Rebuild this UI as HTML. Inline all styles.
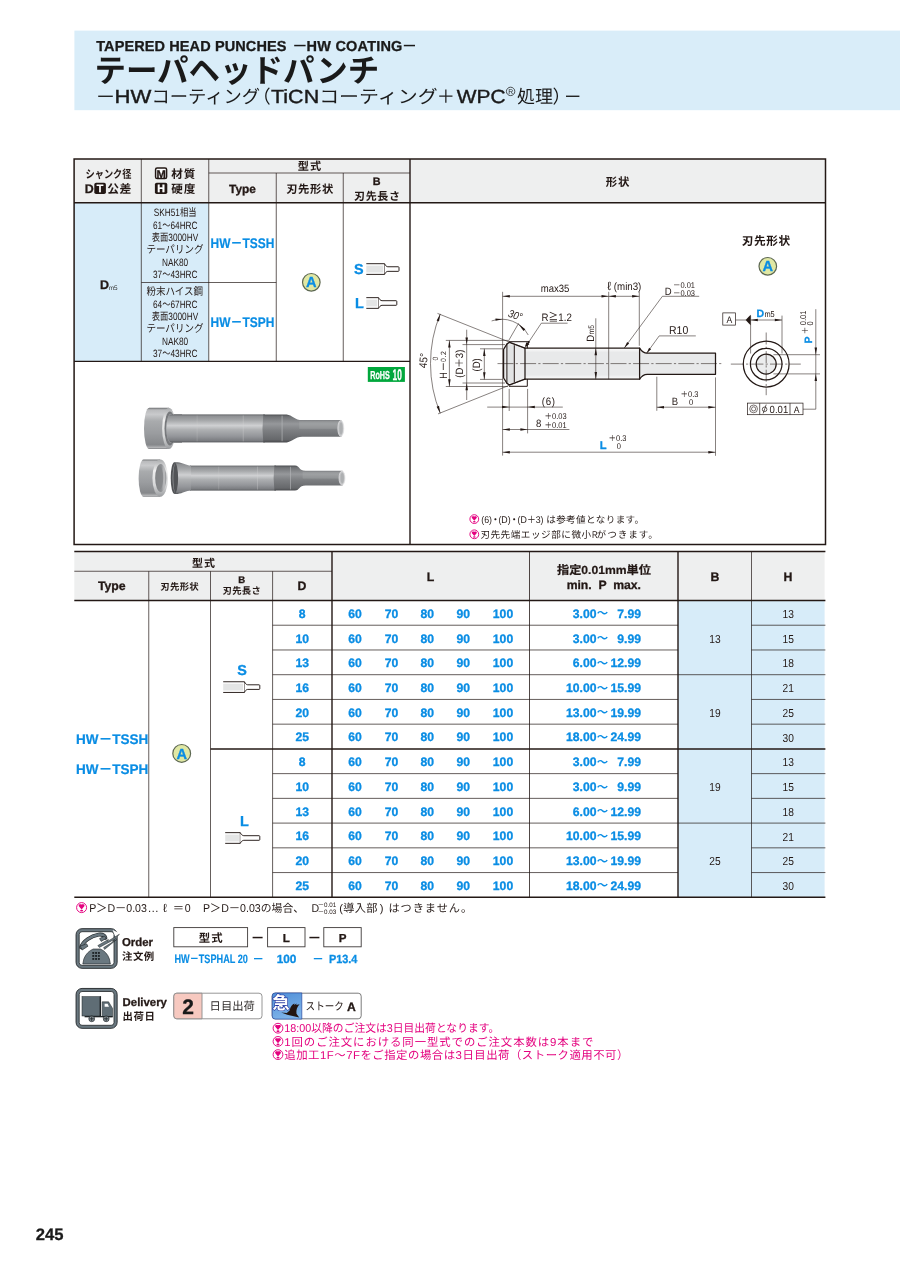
<!DOCTYPE html>
<html lang="ja"><head><meta charset="utf-8"><title>TAPERED HEAD PUNCHES -HW COATING-</title>
<style>
html,body{margin:0;padding:0;background:#fff;}
body{width:900px;height:1271px;overflow:hidden;font-family:"Liberation Sans","Noto Sans CJK JP",sans-serif;}
svg{display:block;will-change:transform;opacity:0.999;}
svg text{font-family:"Liberation Sans","Noto Sans CJK JP",sans-serif;text-rendering:geometricPrecision;}
</style></head><body>
<svg width="900" height="1271" viewBox="0 0 900 1271">
<rect x="74.40" y="30.60" width="825.60" height="79.60" fill="#d9edf9"/>
<text x="96.20" y="50.70" font-size="14.5" fill="#1a1a1a" font-weight="700" stroke="#1a1a1a" stroke-width="0.3" textLength="190.2" lengthAdjust="spacing">TAPERED HEAD PUNCHES</text>
<rect x="294.20" y="44.80" width="11.40" height="1.50" fill="#1a1a1a"/>
<text x="306.60" y="50.70" font-size="14.5" fill="#1a1a1a" font-weight="700" stroke="#1a1a1a" stroke-width="0.3" textLength="95.8" lengthAdjust="spacing">HW COATING</text>
<rect x="403.80" y="44.80" width="11.20" height="1.50" fill="#1a1a1a"/>
<text x="94.40" y="82.00" font-size="32" fill="#1a1a1a" font-weight="700" textLength="284.8" lengthAdjust="spacingAndGlyphs">テーパヘッドパンチ</text>
<rect x="98.20" y="95.60" width="14.60" height="1.35" fill="#1a1a1a"/>
<text x="114.60" y="102.70" font-size="19" fill="#1a1a1a" stroke="#1a1a1a" stroke-width="0.4" textLength="36.8" lengthAdjust="spacingAndGlyphs">HW</text>
<text x="151.40" y="102.70" font-size="18.2" fill="#1a1a1a" textLength="108.6" lengthAdjust="spacingAndGlyphs">コーティング</text>
<text x="252.60" y="102.70" font-size="18.2" fill="#1a1a1a">（</text>
<text x="271.00" y="102.70" font-size="19" fill="#1a1a1a" stroke="#1a1a1a" stroke-width="0.4" textLength="48.2" lengthAdjust="spacingAndGlyphs">TiCN</text>
<text x="319.20" y="102.70" font-size="18.2" fill="#1a1a1a" textLength="118.4" lengthAdjust="spacingAndGlyphs">コーティング</text>
<text x="436.80" y="102.70" font-size="18.2" fill="#1a1a1a">＋</text>
<text x="456.80" y="102.70" font-size="19" fill="#1a1a1a" stroke="#1a1a1a" stroke-width="0.4" textLength="48.8" lengthAdjust="spacingAndGlyphs">WPC</text>
<circle cx="510.6" cy="91.4" r="4.2" fill="none" stroke="#1a1a1a" stroke-width="0.75"/>
<text x="510.70" y="93.90" font-size="6.8" fill="#1a1a1a" text-anchor="middle">R</text>
<text x="517.00" y="102.70" font-size="18.2" fill="#1a1a1a" textLength="36" lengthAdjust="spacingAndGlyphs">処理</text>
<text x="552.50" y="102.70" font-size="18.2" fill="#1a1a1a">）</text>
<rect x="566.00" y="95.60" width="13.40" height="1.35" fill="#1a1a1a"/>
<rect x="74.10" y="159.00" width="751.40" height="44.00" fill="#eeefef"/>
<rect x="74.10" y="203.00" width="134.65" height="158.40" fill="#d7ecf9"/>
<line x1="208.75" y1="173.00" x2="410.00" y2="173.00" stroke="#231815" stroke-width="0.7"/>
<line x1="141.30" y1="159.00" x2="141.30" y2="361.40" stroke="#231815" stroke-width="0.7"/>
<line x1="208.75" y1="159.00" x2="208.75" y2="361.40" stroke="#231815" stroke-width="0.7"/>
<line x1="276.25" y1="173.00" x2="276.25" y2="361.40" stroke="#231815" stroke-width="0.7"/>
<line x1="343.25" y1="173.00" x2="343.25" y2="361.40" stroke="#231815" stroke-width="0.7"/>
<line x1="141.30" y1="282.50" x2="276.25" y2="282.50" stroke="#231815" stroke-width="0.7"/>
<line x1="74.10" y1="202.80" x2="825.50" y2="202.80" stroke="#231815" stroke-width="1.4"/>
<line x1="74.10" y1="361.40" x2="410.00" y2="361.40" stroke="#231815" stroke-width="1.4"/>
<line x1="410.00" y1="159.00" x2="410.00" y2="544.50" stroke="#231815" stroke-width="1.4"/>
<rect x="74.10" y="159.00" width="751.40" height="385.50" fill="none" stroke="#231815" stroke-width="1.5"/>
<text x="85.54" y="177.70" font-size="11.2" fill="#231815" font-weight="700" textLength="45.9" lengthAdjust="spacingAndGlyphs">シャンク径</text>
<text x="84.80" y="193.40" font-size="12.4" fill="#231815" font-weight="700" stroke="#231815" stroke-width="0.3">D</text>
<rect x="94.30" y="182.70" width="11.60" height="11.30" fill="#231815" rx="1.8"/>
<text x="100.10" y="192.40" font-size="10.6" fill="#fff" text-anchor="middle" font-weight="700" stroke="#fff" stroke-width="0.3">T</text>
<text x="107.30" y="193.30" font-size="11.8" fill="#231815" font-weight="700" textLength="23.9" lengthAdjust="spacing">公差</text>
<rect x="155.60" y="167.90" width="11.00" height="10.60" fill="#fff" stroke="#231815" stroke-width="1.5" rx="1.6"/>
<text x="161.10" y="177.50" font-size="11.2" fill="#231815" text-anchor="middle" font-weight="700" stroke="#231815" stroke-width="0.3">M</text>
<text x="171.20" y="178.30" font-size="11.6" fill="#231815" font-weight="700" textLength="24.2" lengthAdjust="spacing">材質</text>
<rect x="154.90" y="182.70" width="12.40" height="11.30" fill="#231815" rx="1.8"/>
<text x="161.10" y="192.30" font-size="10.6" fill="#fff" text-anchor="middle" font-weight="700" stroke="#fff" stroke-width="0.3">H</text>
<text x="171.20" y="193.30" font-size="11.6" fill="#231815" font-weight="700" textLength="24.2" lengthAdjust="spacing">硬度</text>
<text x="297.70" y="170.30" font-size="11.2" fill="#231815" font-weight="700" textLength="23.6" lengthAdjust="spacing">型式</text>
<text x="242.50" y="193.00" font-size="11.9" fill="#231815" text-anchor="middle" font-weight="700" stroke="#231815" stroke-width="0.3">Type</text>
<text x="286.20" y="192.80" font-size="11.3" fill="#231815" font-weight="700" textLength="47.0" lengthAdjust="spacing">刃先形状</text>
<text x="376.60" y="185.00" font-size="10.8" fill="#231815" text-anchor="middle" font-weight="700" stroke="#231815" stroke-width="0.3">B</text>
<text x="354.10" y="200.10" font-size="11" fill="#231815" font-weight="700" textLength="45.8" lengthAdjust="spacing">刃先長さ</text>
<text x="605.80" y="185.60" font-size="11.4" fill="#231815" font-weight="700" textLength="23.6" lengthAdjust="spacing">形状</text>
<text x="100.00" y="288.50" font-size="12.5" fill="#231815" font-weight="700" stroke="#231815" stroke-width="0.3">D</text>
<text x="108.80" y="290.20" font-size="6.4" fill="#333">m5</text>
<text transform="translate(153.70 216.30) scale(0.78 1)" font-size="10.6" fill="#231815">SKH51相当</text>
<text transform="translate(152.99 228.65) scale(0.78 1)" font-size="10.6" fill="#231815">61～64HRC</text>
<text transform="translate(151.79 241.00) scale(0.78 1)" font-size="10.6" fill="#231815">表面3000HV</text>
<text transform="translate(146.38 253.35) scale(0.9 1)" font-size="10.6" fill="#231815">テーパリング</text>
<text transform="translate(161.94 265.70) scale(0.78 1)" font-size="10.6" fill="#231815">NAK80</text>
<text transform="translate(152.99 278.05) scale(0.78 1)" font-size="10.6" fill="#231815">37～43HRC</text>
<text transform="translate(146.38 295.20) scale(0.9 1)" font-size="10.6" fill="#231815">粉末ハイス鋼</text>
<text transform="translate(152.99 307.55) scale(0.78 1)" font-size="10.6" fill="#231815">64～67HRC</text>
<text transform="translate(151.79 319.90) scale(0.78 1)" font-size="10.6" fill="#231815">表面3000HV</text>
<text transform="translate(146.38 332.25) scale(0.9 1)" font-size="10.6" fill="#231815">テーパリング</text>
<text transform="translate(161.94 344.60) scale(0.78 1)" font-size="10.6" fill="#231815">NAK80</text>
<text transform="translate(152.99 356.95) scale(0.78 1)" font-size="10.6" fill="#231815">37～43HRC</text>
<text x="210.60" y="248.40" font-size="13.9" fill="#0a8de4" font-weight="700" stroke="#0a8de4" stroke-width="0.2" textLength="63.8" lengthAdjust="spacingAndGlyphs">HW－TSSH</text>
<text x="210.60" y="327.00" font-size="13.9" fill="#0a8de4" font-weight="700" stroke="#0a8de4" stroke-width="0.2" textLength="63.8" lengthAdjust="spacingAndGlyphs">HW－TSPH</text>
<circle cx="311.30" cy="282.30" r="8.80" fill="#e0e8a4" stroke="#5d6852" stroke-width="1.2"/>
<text x="311.30" y="287.48" font-size="14.6" fill="#0a8de4" text-anchor="middle" font-weight="700" stroke="#0a8de4" stroke-width="0.3">A</text>
<text x="354.00" y="273.90" font-size="14.4" fill="#0a8de4" font-weight="700" stroke="#0a8de4" stroke-width="0.3">S</text>
<rect x="366.30" y="265.60" width="16.90" height="6.90" fill="#e4e5e5"/>
<g stroke="#231815" stroke-width="0.95" fill="none" stroke-linejoin="round">
<path d="M366.30 263.70 H384.60 V274.40 H366.30"/>
<path d="M384.60 263.90 C385.40 265.10 386.20 266.75 387.80 266.75 H398.20 Q399.00 266.75 399.00 267.55 V270.55 Q399.00 271.35 398.20 271.35 H387.80 C386.20 271.35 385.40 273.00 384.60 274.20" fill="#fff"/>
</g>
<text x="355.00" y="308.00" font-size="14.4" fill="#0a8de4" font-weight="700" stroke="#0a8de4" stroke-width="0.3">L</text>
<rect x="366.30" y="299.55" width="10.90" height="6.90" fill="#e4e5e5"/>
<g stroke="#231815" stroke-width="0.95" fill="none" stroke-linejoin="round">
<path d="M366.30 297.65 H378.60 V308.35 H366.30"/>
<path d="M378.60 297.85 C379.40 299.05 380.40 300.70 382.00 300.70 H396.00 Q396.80 300.70 396.80 301.50 V304.50 Q396.80 305.30 396.00 305.30 H382.00 C380.40 305.30 379.40 306.95 378.60 308.15" fill="#fff"/>
</g>
<rect x="74.30" y="551.50" width="750.30" height="49.00" fill="#eeefef"/>
<rect x="678.00" y="600.50" width="146.60" height="296.80" fill="#d7ecf9"/>
<line x1="74.30" y1="571.25" x2="332.00" y2="571.25" stroke="#231815" stroke-width="0.7"/>
<line x1="148.75" y1="571.25" x2="148.75" y2="897.30" stroke="#231815" stroke-width="0.7"/>
<line x1="210.50" y1="571.25" x2="210.50" y2="897.30" stroke="#231815" stroke-width="0.7"/>
<line x1="272.60" y1="571.25" x2="272.60" y2="897.30" stroke="#231815" stroke-width="0.7"/>
<line x1="529.50" y1="551.50" x2="529.50" y2="897.30" stroke="#231815" stroke-width="0.8"/>
<line x1="751.50" y1="551.50" x2="751.50" y2="897.30" stroke="#231815" stroke-width="0.7"/>
<line x1="272.60" y1="625.23" x2="678.00" y2="625.23" stroke="#231815" stroke-width="0.7"/>
<line x1="751.50" y1="625.23" x2="825.40" y2="625.23" stroke="#231815" stroke-width="0.7"/>
<line x1="272.60" y1="649.97" x2="678.00" y2="649.97" stroke="#231815" stroke-width="0.7"/>
<line x1="751.50" y1="649.97" x2="825.40" y2="649.97" stroke="#231815" stroke-width="0.7"/>
<line x1="272.60" y1="674.70" x2="678.00" y2="674.70" stroke="#231815" stroke-width="0.7"/>
<line x1="751.50" y1="674.70" x2="825.40" y2="674.70" stroke="#231815" stroke-width="0.7"/>
<line x1="678.00" y1="674.70" x2="751.50" y2="674.70" stroke="#231815" stroke-width="0.7"/>
<line x1="272.60" y1="699.43" x2="678.00" y2="699.43" stroke="#231815" stroke-width="0.7"/>
<line x1="751.50" y1="699.43" x2="825.40" y2="699.43" stroke="#231815" stroke-width="0.7"/>
<line x1="272.60" y1="724.17" x2="678.00" y2="724.17" stroke="#231815" stroke-width="0.7"/>
<line x1="751.50" y1="724.17" x2="825.40" y2="724.17" stroke="#231815" stroke-width="0.7"/>
<line x1="210.50" y1="748.90" x2="825.40" y2="748.90" stroke="#231815" stroke-width="1.5"/>
<line x1="272.60" y1="773.63" x2="678.00" y2="773.63" stroke="#231815" stroke-width="0.7"/>
<line x1="751.50" y1="773.63" x2="825.40" y2="773.63" stroke="#231815" stroke-width="0.7"/>
<line x1="272.60" y1="798.37" x2="678.00" y2="798.37" stroke="#231815" stroke-width="0.7"/>
<line x1="751.50" y1="798.37" x2="825.40" y2="798.37" stroke="#231815" stroke-width="0.7"/>
<line x1="272.60" y1="823.10" x2="678.00" y2="823.10" stroke="#231815" stroke-width="0.7"/>
<line x1="751.50" y1="823.10" x2="825.40" y2="823.10" stroke="#231815" stroke-width="0.7"/>
<line x1="678.00" y1="823.10" x2="751.50" y2="823.10" stroke="#231815" stroke-width="0.7"/>
<line x1="272.60" y1="847.83" x2="678.00" y2="847.83" stroke="#231815" stroke-width="0.7"/>
<line x1="751.50" y1="847.83" x2="825.40" y2="847.83" stroke="#231815" stroke-width="0.7"/>
<line x1="272.60" y1="872.57" x2="678.00" y2="872.57" stroke="#231815" stroke-width="0.7"/>
<line x1="751.50" y1="872.57" x2="825.40" y2="872.57" stroke="#231815" stroke-width="0.7"/>
<line x1="332.00" y1="551.50" x2="332.00" y2="897.30" stroke="#231815" stroke-width="1.4"/>
<line x1="678.00" y1="551.50" x2="678.00" y2="897.30" stroke="#231815" stroke-width="1.4"/>
<line x1="74.30" y1="551.50" x2="825.40" y2="551.50" stroke="#231815" stroke-width="1.6"/>
<line x1="74.30" y1="600.50" x2="825.40" y2="600.50" stroke="#231815" stroke-width="1.5"/>
<line x1="74.30" y1="897.30" x2="825.40" y2="897.30" stroke="#231815" stroke-width="1.5"/>
<text x="192.00" y="566.50" font-size="11" fill="#231815" font-weight="700" textLength="23.0" lengthAdjust="spacing">型式</text>
<text x="111.80" y="590.40" font-size="12.3" fill="#231815" text-anchor="middle" font-weight="700" stroke="#231815" stroke-width="0.3">Type</text>
<text x="160.25" y="589.60" font-size="9.4" fill="#231815" font-weight="700" textLength="38.5" lengthAdjust="spacing">刃先形状</text>
<text x="241.80" y="583.20" font-size="9.6" fill="#231815" text-anchor="middle" font-weight="700" stroke="#231815" stroke-width="0.3">B</text>
<text x="222.45" y="593.80" font-size="9.4" fill="#231815" font-weight="700" textLength="38.5" lengthAdjust="spacing">刃先長さ</text>
<text x="302.00" y="590.40" font-size="12.3" fill="#231815" text-anchor="middle" font-weight="700" stroke="#231815" stroke-width="0.3">D</text>
<text x="430.50" y="581.00" font-size="12.3" fill="#231815" text-anchor="middle" font-weight="700" stroke="#231815" stroke-width="0.3">L</text>
<text x="557.04" y="573.80" font-size="11.7" fill="#231815" font-weight="700" stroke="#231815" stroke-width="0.2" textLength="93.9" lengthAdjust="spacingAndGlyphs">指定0.01mm単位</text>
<text x="603.80" y="588.80" font-size="12.2" fill="#231815" text-anchor="middle" font-weight="700" stroke="#231815" stroke-width="0.3" xml:space="preserve" style="white-space:pre">min.  P  max.</text>
<text x="715.00" y="581.00" font-size="12.3" fill="#231815" text-anchor="middle" font-weight="700" stroke="#231815" stroke-width="0.3">B</text>
<text x="788.00" y="581.00" font-size="12.3" fill="#231815" text-anchor="middle" font-weight="700" stroke="#231815" stroke-width="0.3">H</text>
<text x="302.20" y="617.80" font-size="12.2" fill="#0a8de4" text-anchor="middle" font-weight="700" stroke="#0a8de4" stroke-width="0.3">8</text>
<text x="355.00" y="617.80" font-size="12.2" fill="#0a8de4" text-anchor="middle" font-weight="700" stroke="#0a8de4" stroke-width="0.3">60</text>
<text x="391.50" y="617.80" font-size="12.2" fill="#0a8de4" text-anchor="middle" font-weight="700" stroke="#0a8de4" stroke-width="0.3">70</text>
<text x="427.20" y="617.80" font-size="12.2" fill="#0a8de4" text-anchor="middle" font-weight="700" stroke="#0a8de4" stroke-width="0.3">80</text>
<text x="463.20" y="617.80" font-size="12.2" fill="#0a8de4" text-anchor="middle" font-weight="700" stroke="#0a8de4" stroke-width="0.3">90</text>
<text x="503.00" y="617.80" font-size="12.2" fill="#0a8de4" text-anchor="middle" font-weight="700" stroke="#0a8de4" stroke-width="0.3">100</text>
<text x="596.50" y="617.80" font-size="12.2" fill="#0a8de4" text-anchor="end" font-weight="700" stroke="#0a8de4" stroke-width="0.3">3.00</text>
<text x="596.80" y="617.40" font-size="11.4" fill="#0a8de4" font-weight="700">～</text>
<text x="641.00" y="617.80" font-size="12.2" fill="#0a8de4" text-anchor="end" font-weight="700" stroke="#0a8de4" stroke-width="0.3">7.99</text>
<text transform="translate(788.30 617.90) scale(0.88 1)" font-size="11.6" fill="#231815" text-anchor="middle">13</text>
<text x="302.20" y="642.53" font-size="12.2" fill="#0a8de4" text-anchor="middle" font-weight="700" stroke="#0a8de4" stroke-width="0.3">10</text>
<text x="355.00" y="642.53" font-size="12.2" fill="#0a8de4" text-anchor="middle" font-weight="700" stroke="#0a8de4" stroke-width="0.3">60</text>
<text x="391.50" y="642.53" font-size="12.2" fill="#0a8de4" text-anchor="middle" font-weight="700" stroke="#0a8de4" stroke-width="0.3">70</text>
<text x="427.20" y="642.53" font-size="12.2" fill="#0a8de4" text-anchor="middle" font-weight="700" stroke="#0a8de4" stroke-width="0.3">80</text>
<text x="463.20" y="642.53" font-size="12.2" fill="#0a8de4" text-anchor="middle" font-weight="700" stroke="#0a8de4" stroke-width="0.3">90</text>
<text x="503.00" y="642.53" font-size="12.2" fill="#0a8de4" text-anchor="middle" font-weight="700" stroke="#0a8de4" stroke-width="0.3">100</text>
<text x="596.50" y="642.53" font-size="12.2" fill="#0a8de4" text-anchor="end" font-weight="700" stroke="#0a8de4" stroke-width="0.3">3.00</text>
<text x="596.80" y="642.13" font-size="11.4" fill="#0a8de4" font-weight="700">～</text>
<text x="641.00" y="642.53" font-size="12.2" fill="#0a8de4" text-anchor="end" font-weight="700" stroke="#0a8de4" stroke-width="0.3">9.99</text>
<text transform="translate(788.30 642.63) scale(0.88 1)" font-size="11.6" fill="#231815" text-anchor="middle">15</text>
<text x="302.20" y="667.27" font-size="12.2" fill="#0a8de4" text-anchor="middle" font-weight="700" stroke="#0a8de4" stroke-width="0.3">13</text>
<text x="355.00" y="667.27" font-size="12.2" fill="#0a8de4" text-anchor="middle" font-weight="700" stroke="#0a8de4" stroke-width="0.3">60</text>
<text x="391.50" y="667.27" font-size="12.2" fill="#0a8de4" text-anchor="middle" font-weight="700" stroke="#0a8de4" stroke-width="0.3">70</text>
<text x="427.20" y="667.27" font-size="12.2" fill="#0a8de4" text-anchor="middle" font-weight="700" stroke="#0a8de4" stroke-width="0.3">80</text>
<text x="463.20" y="667.27" font-size="12.2" fill="#0a8de4" text-anchor="middle" font-weight="700" stroke="#0a8de4" stroke-width="0.3">90</text>
<text x="503.00" y="667.27" font-size="12.2" fill="#0a8de4" text-anchor="middle" font-weight="700" stroke="#0a8de4" stroke-width="0.3">100</text>
<text x="596.50" y="667.27" font-size="12.2" fill="#0a8de4" text-anchor="end" font-weight="700" stroke="#0a8de4" stroke-width="0.3">6.00</text>
<text x="596.80" y="666.87" font-size="11.4" fill="#0a8de4" font-weight="700">～</text>
<text x="641.00" y="667.27" font-size="12.2" fill="#0a8de4" text-anchor="end" font-weight="700" stroke="#0a8de4" stroke-width="0.3">12.99</text>
<text transform="translate(788.30 667.37) scale(0.88 1)" font-size="11.6" fill="#231815" text-anchor="middle">18</text>
<text x="302.20" y="692.00" font-size="12.2" fill="#0a8de4" text-anchor="middle" font-weight="700" stroke="#0a8de4" stroke-width="0.3">16</text>
<text x="355.00" y="692.00" font-size="12.2" fill="#0a8de4" text-anchor="middle" font-weight="700" stroke="#0a8de4" stroke-width="0.3">60</text>
<text x="391.50" y="692.00" font-size="12.2" fill="#0a8de4" text-anchor="middle" font-weight="700" stroke="#0a8de4" stroke-width="0.3">70</text>
<text x="427.20" y="692.00" font-size="12.2" fill="#0a8de4" text-anchor="middle" font-weight="700" stroke="#0a8de4" stroke-width="0.3">80</text>
<text x="463.20" y="692.00" font-size="12.2" fill="#0a8de4" text-anchor="middle" font-weight="700" stroke="#0a8de4" stroke-width="0.3">90</text>
<text x="503.00" y="692.00" font-size="12.2" fill="#0a8de4" text-anchor="middle" font-weight="700" stroke="#0a8de4" stroke-width="0.3">100</text>
<text x="596.50" y="692.00" font-size="12.2" fill="#0a8de4" text-anchor="end" font-weight="700" stroke="#0a8de4" stroke-width="0.3">10.00</text>
<text x="596.80" y="691.60" font-size="11.4" fill="#0a8de4" font-weight="700">～</text>
<text x="641.00" y="692.00" font-size="12.2" fill="#0a8de4" text-anchor="end" font-weight="700" stroke="#0a8de4" stroke-width="0.3">15.99</text>
<text transform="translate(788.30 692.10) scale(0.88 1)" font-size="11.6" fill="#231815" text-anchor="middle">21</text>
<text x="302.20" y="716.73" font-size="12.2" fill="#0a8de4" text-anchor="middle" font-weight="700" stroke="#0a8de4" stroke-width="0.3">20</text>
<text x="355.00" y="716.73" font-size="12.2" fill="#0a8de4" text-anchor="middle" font-weight="700" stroke="#0a8de4" stroke-width="0.3">60</text>
<text x="391.50" y="716.73" font-size="12.2" fill="#0a8de4" text-anchor="middle" font-weight="700" stroke="#0a8de4" stroke-width="0.3">70</text>
<text x="427.20" y="716.73" font-size="12.2" fill="#0a8de4" text-anchor="middle" font-weight="700" stroke="#0a8de4" stroke-width="0.3">80</text>
<text x="463.20" y="716.73" font-size="12.2" fill="#0a8de4" text-anchor="middle" font-weight="700" stroke="#0a8de4" stroke-width="0.3">90</text>
<text x="503.00" y="716.73" font-size="12.2" fill="#0a8de4" text-anchor="middle" font-weight="700" stroke="#0a8de4" stroke-width="0.3">100</text>
<text x="596.50" y="716.73" font-size="12.2" fill="#0a8de4" text-anchor="end" font-weight="700" stroke="#0a8de4" stroke-width="0.3">13.00</text>
<text x="596.80" y="716.33" font-size="11.4" fill="#0a8de4" font-weight="700">～</text>
<text x="641.00" y="716.73" font-size="12.2" fill="#0a8de4" text-anchor="end" font-weight="700" stroke="#0a8de4" stroke-width="0.3">19.99</text>
<text transform="translate(788.30 716.83) scale(0.88 1)" font-size="11.6" fill="#231815" text-anchor="middle">25</text>
<text x="302.20" y="741.47" font-size="12.2" fill="#0a8de4" text-anchor="middle" font-weight="700" stroke="#0a8de4" stroke-width="0.3">25</text>
<text x="355.00" y="741.47" font-size="12.2" fill="#0a8de4" text-anchor="middle" font-weight="700" stroke="#0a8de4" stroke-width="0.3">60</text>
<text x="391.50" y="741.47" font-size="12.2" fill="#0a8de4" text-anchor="middle" font-weight="700" stroke="#0a8de4" stroke-width="0.3">70</text>
<text x="427.20" y="741.47" font-size="12.2" fill="#0a8de4" text-anchor="middle" font-weight="700" stroke="#0a8de4" stroke-width="0.3">80</text>
<text x="463.20" y="741.47" font-size="12.2" fill="#0a8de4" text-anchor="middle" font-weight="700" stroke="#0a8de4" stroke-width="0.3">90</text>
<text x="503.00" y="741.47" font-size="12.2" fill="#0a8de4" text-anchor="middle" font-weight="700" stroke="#0a8de4" stroke-width="0.3">100</text>
<text x="596.50" y="741.47" font-size="12.2" fill="#0a8de4" text-anchor="end" font-weight="700" stroke="#0a8de4" stroke-width="0.3">18.00</text>
<text x="596.80" y="741.07" font-size="11.4" fill="#0a8de4" font-weight="700">～</text>
<text x="641.00" y="741.47" font-size="12.2" fill="#0a8de4" text-anchor="end" font-weight="700" stroke="#0a8de4" stroke-width="0.3">24.99</text>
<text transform="translate(788.30 741.57) scale(0.88 1)" font-size="11.6" fill="#231815" text-anchor="middle">30</text>
<text x="302.20" y="766.20" font-size="12.2" fill="#0a8de4" text-anchor="middle" font-weight="700" stroke="#0a8de4" stroke-width="0.3">8</text>
<text x="355.00" y="766.20" font-size="12.2" fill="#0a8de4" text-anchor="middle" font-weight="700" stroke="#0a8de4" stroke-width="0.3">60</text>
<text x="391.50" y="766.20" font-size="12.2" fill="#0a8de4" text-anchor="middle" font-weight="700" stroke="#0a8de4" stroke-width="0.3">70</text>
<text x="427.20" y="766.20" font-size="12.2" fill="#0a8de4" text-anchor="middle" font-weight="700" stroke="#0a8de4" stroke-width="0.3">80</text>
<text x="463.20" y="766.20" font-size="12.2" fill="#0a8de4" text-anchor="middle" font-weight="700" stroke="#0a8de4" stroke-width="0.3">90</text>
<text x="503.00" y="766.20" font-size="12.2" fill="#0a8de4" text-anchor="middle" font-weight="700" stroke="#0a8de4" stroke-width="0.3">100</text>
<text x="596.50" y="766.20" font-size="12.2" fill="#0a8de4" text-anchor="end" font-weight="700" stroke="#0a8de4" stroke-width="0.3">3.00</text>
<text x="596.80" y="765.80" font-size="11.4" fill="#0a8de4" font-weight="700">～</text>
<text x="641.00" y="766.20" font-size="12.2" fill="#0a8de4" text-anchor="end" font-weight="700" stroke="#0a8de4" stroke-width="0.3">7.99</text>
<text transform="translate(788.30 766.30) scale(0.88 1)" font-size="11.6" fill="#231815" text-anchor="middle">13</text>
<text x="302.20" y="790.93" font-size="12.2" fill="#0a8de4" text-anchor="middle" font-weight="700" stroke="#0a8de4" stroke-width="0.3">10</text>
<text x="355.00" y="790.93" font-size="12.2" fill="#0a8de4" text-anchor="middle" font-weight="700" stroke="#0a8de4" stroke-width="0.3">60</text>
<text x="391.50" y="790.93" font-size="12.2" fill="#0a8de4" text-anchor="middle" font-weight="700" stroke="#0a8de4" stroke-width="0.3">70</text>
<text x="427.20" y="790.93" font-size="12.2" fill="#0a8de4" text-anchor="middle" font-weight="700" stroke="#0a8de4" stroke-width="0.3">80</text>
<text x="463.20" y="790.93" font-size="12.2" fill="#0a8de4" text-anchor="middle" font-weight="700" stroke="#0a8de4" stroke-width="0.3">90</text>
<text x="503.00" y="790.93" font-size="12.2" fill="#0a8de4" text-anchor="middle" font-weight="700" stroke="#0a8de4" stroke-width="0.3">100</text>
<text x="596.50" y="790.93" font-size="12.2" fill="#0a8de4" text-anchor="end" font-weight="700" stroke="#0a8de4" stroke-width="0.3">3.00</text>
<text x="596.80" y="790.53" font-size="11.4" fill="#0a8de4" font-weight="700">～</text>
<text x="641.00" y="790.93" font-size="12.2" fill="#0a8de4" text-anchor="end" font-weight="700" stroke="#0a8de4" stroke-width="0.3">9.99</text>
<text transform="translate(788.30 791.03) scale(0.88 1)" font-size="11.6" fill="#231815" text-anchor="middle">15</text>
<text x="302.20" y="815.67" font-size="12.2" fill="#0a8de4" text-anchor="middle" font-weight="700" stroke="#0a8de4" stroke-width="0.3">13</text>
<text x="355.00" y="815.67" font-size="12.2" fill="#0a8de4" text-anchor="middle" font-weight="700" stroke="#0a8de4" stroke-width="0.3">60</text>
<text x="391.50" y="815.67" font-size="12.2" fill="#0a8de4" text-anchor="middle" font-weight="700" stroke="#0a8de4" stroke-width="0.3">70</text>
<text x="427.20" y="815.67" font-size="12.2" fill="#0a8de4" text-anchor="middle" font-weight="700" stroke="#0a8de4" stroke-width="0.3">80</text>
<text x="463.20" y="815.67" font-size="12.2" fill="#0a8de4" text-anchor="middle" font-weight="700" stroke="#0a8de4" stroke-width="0.3">90</text>
<text x="503.00" y="815.67" font-size="12.2" fill="#0a8de4" text-anchor="middle" font-weight="700" stroke="#0a8de4" stroke-width="0.3">100</text>
<text x="596.50" y="815.67" font-size="12.2" fill="#0a8de4" text-anchor="end" font-weight="700" stroke="#0a8de4" stroke-width="0.3">6.00</text>
<text x="596.80" y="815.27" font-size="11.4" fill="#0a8de4" font-weight="700">～</text>
<text x="641.00" y="815.67" font-size="12.2" fill="#0a8de4" text-anchor="end" font-weight="700" stroke="#0a8de4" stroke-width="0.3">12.99</text>
<text transform="translate(788.30 815.77) scale(0.88 1)" font-size="11.6" fill="#231815" text-anchor="middle">18</text>
<text x="302.20" y="840.40" font-size="12.2" fill="#0a8de4" text-anchor="middle" font-weight="700" stroke="#0a8de4" stroke-width="0.3">16</text>
<text x="355.00" y="840.40" font-size="12.2" fill="#0a8de4" text-anchor="middle" font-weight="700" stroke="#0a8de4" stroke-width="0.3">60</text>
<text x="391.50" y="840.40" font-size="12.2" fill="#0a8de4" text-anchor="middle" font-weight="700" stroke="#0a8de4" stroke-width="0.3">70</text>
<text x="427.20" y="840.40" font-size="12.2" fill="#0a8de4" text-anchor="middle" font-weight="700" stroke="#0a8de4" stroke-width="0.3">80</text>
<text x="463.20" y="840.40" font-size="12.2" fill="#0a8de4" text-anchor="middle" font-weight="700" stroke="#0a8de4" stroke-width="0.3">90</text>
<text x="503.00" y="840.40" font-size="12.2" fill="#0a8de4" text-anchor="middle" font-weight="700" stroke="#0a8de4" stroke-width="0.3">100</text>
<text x="596.50" y="840.40" font-size="12.2" fill="#0a8de4" text-anchor="end" font-weight="700" stroke="#0a8de4" stroke-width="0.3">10.00</text>
<text x="596.80" y="840.00" font-size="11.4" fill="#0a8de4" font-weight="700">～</text>
<text x="641.00" y="840.40" font-size="12.2" fill="#0a8de4" text-anchor="end" font-weight="700" stroke="#0a8de4" stroke-width="0.3">15.99</text>
<text transform="translate(788.30 840.50) scale(0.88 1)" font-size="11.6" fill="#231815" text-anchor="middle">21</text>
<text x="302.20" y="865.13" font-size="12.2" fill="#0a8de4" text-anchor="middle" font-weight="700" stroke="#0a8de4" stroke-width="0.3">20</text>
<text x="355.00" y="865.13" font-size="12.2" fill="#0a8de4" text-anchor="middle" font-weight="700" stroke="#0a8de4" stroke-width="0.3">60</text>
<text x="391.50" y="865.13" font-size="12.2" fill="#0a8de4" text-anchor="middle" font-weight="700" stroke="#0a8de4" stroke-width="0.3">70</text>
<text x="427.20" y="865.13" font-size="12.2" fill="#0a8de4" text-anchor="middle" font-weight="700" stroke="#0a8de4" stroke-width="0.3">80</text>
<text x="463.20" y="865.13" font-size="12.2" fill="#0a8de4" text-anchor="middle" font-weight="700" stroke="#0a8de4" stroke-width="0.3">90</text>
<text x="503.00" y="865.13" font-size="12.2" fill="#0a8de4" text-anchor="middle" font-weight="700" stroke="#0a8de4" stroke-width="0.3">100</text>
<text x="596.50" y="865.13" font-size="12.2" fill="#0a8de4" text-anchor="end" font-weight="700" stroke="#0a8de4" stroke-width="0.3">13.00</text>
<text x="596.80" y="864.73" font-size="11.4" fill="#0a8de4" font-weight="700">～</text>
<text x="641.00" y="865.13" font-size="12.2" fill="#0a8de4" text-anchor="end" font-weight="700" stroke="#0a8de4" stroke-width="0.3">19.99</text>
<text transform="translate(788.30 865.23) scale(0.88 1)" font-size="11.6" fill="#231815" text-anchor="middle">25</text>
<text x="302.20" y="889.87" font-size="12.2" fill="#0a8de4" text-anchor="middle" font-weight="700" stroke="#0a8de4" stroke-width="0.3">25</text>
<text x="355.00" y="889.87" font-size="12.2" fill="#0a8de4" text-anchor="middle" font-weight="700" stroke="#0a8de4" stroke-width="0.3">60</text>
<text x="391.50" y="889.87" font-size="12.2" fill="#0a8de4" text-anchor="middle" font-weight="700" stroke="#0a8de4" stroke-width="0.3">70</text>
<text x="427.20" y="889.87" font-size="12.2" fill="#0a8de4" text-anchor="middle" font-weight="700" stroke="#0a8de4" stroke-width="0.3">80</text>
<text x="463.20" y="889.87" font-size="12.2" fill="#0a8de4" text-anchor="middle" font-weight="700" stroke="#0a8de4" stroke-width="0.3">90</text>
<text x="503.00" y="889.87" font-size="12.2" fill="#0a8de4" text-anchor="middle" font-weight="700" stroke="#0a8de4" stroke-width="0.3">100</text>
<text x="596.50" y="889.87" font-size="12.2" fill="#0a8de4" text-anchor="end" font-weight="700" stroke="#0a8de4" stroke-width="0.3">18.00</text>
<text x="596.80" y="889.47" font-size="11.4" fill="#0a8de4" font-weight="700">～</text>
<text x="641.00" y="889.87" font-size="12.2" fill="#0a8de4" text-anchor="end" font-weight="700" stroke="#0a8de4" stroke-width="0.3">24.99</text>
<text transform="translate(788.30 889.97) scale(0.88 1)" font-size="11.6" fill="#231815" text-anchor="middle">30</text>
<text transform="translate(715.00 642.70) scale(0.88 1)" font-size="11.6" fill="#231815" text-anchor="middle">13</text>
<text transform="translate(715.00 716.90) scale(0.88 1)" font-size="11.6" fill="#231815" text-anchor="middle">19</text>
<text transform="translate(715.00 791.10) scale(0.88 1)" font-size="11.6" fill="#231815" text-anchor="middle">19</text>
<text transform="translate(715.00 865.30) scale(0.88 1)" font-size="11.6" fill="#231815" text-anchor="middle">25</text>
<text x="76.10" y="744.20" font-size="13.9" fill="#0a8de4" font-weight="700" stroke="#0a8de4" stroke-width="0.2" textLength="72.2" lengthAdjust="spacingAndGlyphs">HW－TSSH</text>
<text x="76.10" y="773.70" font-size="13.9" fill="#0a8de4" font-weight="700" stroke="#0a8de4" stroke-width="0.2" textLength="72.2" lengthAdjust="spacingAndGlyphs">HW－TSPH</text>
<circle cx="181.70" cy="753.40" r="8.90" fill="#e0e8a4" stroke="#5d6852" stroke-width="1.2"/>
<text x="181.70" y="758.58" font-size="14.6" fill="#0a8de4" text-anchor="middle" font-weight="700" stroke="#0a8de4" stroke-width="0.3">A</text>
<text x="242.10" y="674.90" font-size="14.4" fill="#0a8de4" text-anchor="middle" font-weight="700" stroke="#0a8de4" stroke-width="0.3">S</text>
<rect x="223.20" y="683.65" width="19.90" height="6.90" fill="#e4e5e5"/>
<g stroke="#231815" stroke-width="0.95" fill="none" stroke-linejoin="round">
<path d="M223.20 681.75 H244.50 V692.45 H223.20"/>
<path d="M244.50 681.95 C245.30 683.15 246.10 684.80 247.70 684.80 H259.00 Q259.80 684.80 259.80 685.60 V688.60 Q259.80 689.40 259.00 689.40 H247.70 C246.10 689.40 245.30 691.05 244.50 692.25" fill="#fff"/>
</g>
<text x="244.40" y="825.80" font-size="14.4" fill="#0a8de4" text-anchor="middle" font-weight="700" stroke="#0a8de4" stroke-width="0.3">L</text>
<rect x="225.20" y="834.55" width="13.70" height="6.90" fill="#e4e5e5"/>
<g stroke="#231815" stroke-width="0.95" fill="none" stroke-linejoin="round">
<path d="M225.20 832.65 H240.30 V843.35 H225.20"/>
<path d="M240.30 832.85 C241.10 834.05 242.20 835.70 243.80 835.70 H259.00 Q259.80 835.70 259.80 836.50 V839.50 Q259.80 840.30 259.00 840.30 H243.80 C242.20 840.30 241.10 841.95 240.30 843.15" fill="#fff"/>
</g>
<defs><linearGradient id="shk" x1="0" y1="0" x2="0" y2="1"><stop offset="0" stop-color="#fdfdfd"/><stop offset="0.14" stop-color="#e8e9ea"/><stop offset="0.86" stop-color="#e8e9ea"/><stop offset="1" stop-color="#fdfdfd"/></linearGradient></defs>
<path d="M525.00 348.10 H639.60 C641.20 350.70 643.60 353.20 647.20 353.20 H715.50 V374.30 H647.20 C643.60 374.30 641.20 376.60 639.60 379.20 H525.00 Z" fill="url(#shk)"/>
<path d="M503.60 349.2 L507.2 343.6 L525.00 348.10 V379.20 L507.2 383.6 L503.60 378.0 Z" fill="#ececed"/>
<rect x="506.9" y="344.6" width="7.4" height="38.2" fill="#e2e3e4"/>
<line x1="497.5" y1="363.60" x2="721.7" y2="363.60" stroke="#231815" stroke-width="0.55" stroke-dasharray="16 2.2 2.2 2.2"/>
<line x1="437.50" y1="313.40" x2="524.50" y2="348.10" stroke="#231815" stroke-width="0.55"/>
<line x1="438.00" y1="413.90" x2="524.50" y2="379.20" stroke="#231815" stroke-width="0.55"/>
<path d="M440.30 313.89 A131.0 131.0 0 0 0 440.30 413.31" fill="none" stroke="#231815" stroke-width="0.55"/>
<path d="M440.30 313.89 L439.00 321.38 L436.64 320.56 Z" fill="#231815"/>
<path d="M440.30 413.31 L436.64 406.64 L439.00 405.82 Z" fill="#231815"/>
<text transform="translate(427.20 361.20) rotate(-84) translate(-7.46 0) scale(0.9 1)" font-size="11.2" fill="#231815">45°</text>
<line x1="508.00" y1="341.70" x2="518.60" y2="323.30" stroke="#231815" stroke-width="0.55"/>
<path d="M491.62 320.93 A30.2 30.2 0 0 1 528.24 334.99" fill="none" stroke="#231815" stroke-width="0.55"/>
<path d="M502.70 319.25 L495.57 320.83 L495.45 318.43 Z" fill="#231815"/>
<path d="M518.20 323.70 L525.35 329.31 L523.55 331.04 Z" fill="#231815"/>
<text transform="translate(507.40 316.60) rotate(17) scale(0.88 1)" font-size="10.8" fill="#231815" font-style="italic">30°</text>
<path d="M529.3 341.2 L541.3 323.2 H567.6" fill="none" stroke="#231815" stroke-width="0.55"/>
<line x1="529.30" y1="341.30" x2="526.20" y2="345.90" stroke="#231815" stroke-width="1.7"/>
<path d="M524.90 347.30 L526.30 342.14 L529.38 344.37 Z" fill="#231815"/>
<text transform="translate(541.60 320.80) scale(0.9 1)" font-size="10.8" fill="#231815">R≧1.2</text>
<line x1="502.60" y1="291.80" x2="502.60" y2="455.60" stroke="#231815" stroke-width="0.55"/>
<line x1="608.70" y1="291.80" x2="608.70" y2="379.20" stroke="#231815" stroke-width="0.55"/>
<line x1="639.30" y1="291.80" x2="639.30" y2="345.80" stroke="#231815" stroke-width="0.55"/>
<line x1="502.60" y1="296.30" x2="608.70" y2="296.30" stroke="#231815" stroke-width="0.55"/>
<path d="M502.60 296.30 L509.80 295.05 L509.80 297.55 Z" fill="#231815"/>
<path d="M608.70 296.30 L601.50 297.55 L601.50 295.05 Z" fill="#231815"/>
<text transform="translate(540.73 292.30) scale(0.9 1)" font-size="10.6" fill="#231815">max35</text>
<line x1="608.70" y1="296.30" x2="639.30" y2="296.30" stroke="#231815" stroke-width="0.55"/>
<path d="M608.70 296.30 L615.90 295.05 L615.90 297.55 Z" fill="#231815"/>
<path d="M639.30 296.30 L632.10 297.55 L632.10 295.05 Z" fill="#231815"/>
<text x="607.20" y="290.40" font-size="12" fill="#231815">ℓ</text>
<text transform="translate(613.80 290.20) scale(0.9 1)" font-size="10.8" fill="#231815">(min3)</text>
<path d="M624.3 348.0 L662.4 296.3 H699.2" fill="none" stroke="#231815" stroke-width="0.55"/>
<path d="M624.30 348.00 L627.15 342.03 L629.16 343.51 Z" fill="#231815"/>
<text transform="translate(664.80 294.60) scale(0.9 1)" font-size="10.6" fill="#231815">D</text>
<text transform="translate(673.00 288.20) scale(0.9 1)" font-size="8.3" fill="#231815">－0.01</text>
<text transform="translate(673.00 295.60) scale(0.9 1)" font-size="8.3" fill="#231815">－0.03</text>
<path d="M646.6 353.3 L659.2 335.9 H695.8" fill="none" stroke="#231815" stroke-width="0.55"/>
<path d="M646.60 353.30 L649.11 347.71 L651.13 349.17 Z" fill="#231815"/>
<text transform="translate(669.00 334.00) scale(0.92 1)" font-size="11.4" fill="#231815">R10</text>
<line x1="595.80" y1="318.30" x2="595.80" y2="379.20" stroke="#231815" stroke-width="0.55"/>
<path d="M595.80 348.10 L597.05 355.30 L594.55 355.30 Z" fill="#231815"/>
<path d="M595.80 379.20 L594.55 372.00 L597.05 372.00 Z" fill="#231815"/>
<text transform="translate(594.00 341.80) rotate(-90) scale(0.9 1)" font-size="10.6" fill="#231815">D</text>
<text transform="translate(594.00 334.60) rotate(-90) scale(0.86 1)" font-size="8" fill="#231815">m5</text>
<line x1="445.80" y1="340.40" x2="508.00" y2="340.40" stroke="#231815" stroke-width="0.55"/>
<line x1="445.80" y1="386.50" x2="508.00" y2="386.50" stroke="#231815" stroke-width="0.55"/>
<line x1="449.40" y1="340.40" x2="449.40" y2="386.50" stroke="#231815" stroke-width="0.55"/>
<path d="M449.40 340.40 L450.65 347.60 L448.15 347.60 Z" fill="#231815"/>
<path d="M449.40 386.50 L448.15 379.30 L450.65 379.30 Z" fill="#231815"/>
<text transform="translate(446.70 378.80) rotate(-90) scale(0.86 1)" font-size="10.6" fill="#231815">H</text>
<line x1="443.30" y1="363.20" x2="443.30" y2="370.00" stroke="#231815" stroke-width="0.8"/>
<text transform="translate(438.40 360.60) rotate(-90) scale(0.9 1)" font-size="7.6" fill="#231815">0</text>
<text transform="translate(446.40 361.90) rotate(-90) scale(0.9 1)" font-size="7.6" fill="#231815" letter-spacing="0.6">0.2</text>
<line x1="462.50" y1="344.60" x2="505.00" y2="344.60" stroke="#231815" stroke-width="0.55"/>
<line x1="462.50" y1="383.00" x2="505.00" y2="383.00" stroke="#231815" stroke-width="0.55"/>
<line x1="466.70" y1="329.70" x2="466.70" y2="400.00" stroke="#231815" stroke-width="0.55"/>
<path d="M466.70 344.60 L465.45 337.40 L467.95 337.40 Z" fill="#231815"/>
<path d="M466.70 383.00 L467.95 390.20 L465.45 390.20 Z" fill="#231815"/>
<text transform="translate(462.70 363.00) rotate(-90) translate(-14.72 0) scale(0.9 1)" font-size="10.6" fill="#231815">(D＋3)</text>
<line x1="480.00" y1="348.80" x2="502.60" y2="348.80" stroke="#231815" stroke-width="0.55"/>
<line x1="480.00" y1="379.40" x2="502.60" y2="379.40" stroke="#231815" stroke-width="0.55"/>
<line x1="484.30" y1="348.70" x2="484.30" y2="379.50" stroke="#231815" stroke-width="0.55"/>
<path d="M484.30 348.70 L485.55 355.90 L483.05 355.90 Z" fill="#231815"/>
<path d="M484.30 379.50 L483.05 372.30 L485.55 372.30 Z" fill="#231815"/>
<text transform="translate(480.30 364.10) rotate(-90) translate(-7.41 0) scale(0.9 1)" font-size="10.6" fill="#231815">(D)</text>
<line x1="509.20" y1="388.90" x2="509.20" y2="411.00" stroke="#231815" stroke-width="0.55"/>
<line x1="527.60" y1="388.90" x2="527.60" y2="433.40" stroke="#231815" stroke-width="0.55"/>
<line x1="487.20" y1="407.10" x2="562.80" y2="407.10" stroke="#231815" stroke-width="0.55"/>
<path d="M509.20 407.10 L502.00 408.35 L502.00 405.85 Z" fill="#231815"/>
<path d="M527.60 407.10 L534.80 405.85 L534.80 408.35 Z" fill="#231815"/>
<text transform="translate(541.72 404.80) scale(0.9 1)" font-size="10.8" fill="#231815" letter-spacing="0.8">(6)</text>
<line x1="502.60" y1="429.50" x2="569.40" y2="429.50" stroke="#231815" stroke-width="0.55"/>
<path d="M502.60 429.50 L509.80 428.25 L509.80 430.75 Z" fill="#231815"/>
<path d="M527.60 429.50 L520.40 430.75 L520.40 428.25 Z" fill="#231815"/>
<text transform="translate(535.95 427.40) scale(0.9 1)" font-size="10.6" fill="#231815">8</text>
<text transform="translate(544.60 419.40) scale(0.9 1)" font-size="8.3" fill="#231815">＋0.03</text>
<text transform="translate(544.60 427.70) scale(0.9 1)" font-size="8.3" fill="#231815">＋0.01</text>
<line x1="656.80" y1="376.70" x2="656.80" y2="410.80" stroke="#231815" stroke-width="0.55"/>
<line x1="715.50" y1="377.40" x2="715.50" y2="455.80" stroke="#231815" stroke-width="0.55"/>
<line x1="656.80" y1="407.20" x2="715.50" y2="407.20" stroke="#231815" stroke-width="0.55"/>
<path d="M656.80 407.20 L664.00 405.95 L664.00 408.45 Z" fill="#231815"/>
<path d="M715.50 407.20 L708.30 408.45 L708.30 405.95 Z" fill="#231815"/>
<text transform="translate(671.67 404.60) scale(0.9 1)" font-size="10.6" fill="#231815">B</text>
<text transform="translate(680.60 397.40) scale(0.9 1)" font-size="8.3" fill="#231815">＋0.3</text>
<text transform="translate(688.97 405.00) scale(0.9 1)" font-size="8.3" fill="#231815">0</text>
<line x1="502.60" y1="452.20" x2="715.50" y2="452.20" stroke="#231815" stroke-width="0.55"/>
<path d="M502.60 452.20 L509.80 450.95 L509.80 453.45 Z" fill="#231815"/>
<path d="M715.50 452.20 L708.30 453.45 L708.30 450.95 Z" fill="#231815"/>
<text x="599.80" y="448.80" font-size="11.2" fill="#0a8de4" font-weight="700" stroke="#0a8de4" stroke-width="0.3">L</text>
<text transform="translate(608.60 441.30) scale(0.9 1)" font-size="8.3" fill="#231815">＋0.3</text>
<text transform="translate(616.77 449.20) scale(0.9 1)" font-size="8.3" fill="#231815">0</text>
<g fill="none" stroke="#231815" stroke-width="1.25" stroke-linejoin="round" stroke-linecap="round">
<path d="M503.60 349.3 L507.0 343.9 L509.4 342.4 L525.00 348.10 M503.60 378.0 L507.0 383.4 L509.4 384.9 L525.00 379.20 M503.60 349.3 V378.0"/>
<path d="M506.9 344.2 V383.1 M514.3 345.6 V381.7" stroke-width="1.0"/>
<path d="M525.00 348.10 V379.20" />
<path d="M509.4 341.7 H529.0 M509.4 386.3 H527.3 V379.4 M527.3 345.2 V348.0" stroke-width="1.0"/>
<path d="M525.00 348.10 H639.60 C641.20 350.70 643.60 353.20 647.20 353.20 H715.50 V374.30 H647.20 C643.60 374.30 641.20 376.60 639.60 379.20 H525.00"/>
<path d="M639.60 348.10 V379.20"/>
</g>
<circle cx="766.20" cy="364.10" r="10.0" fill="#ecedee"/>
<line x1="730.8" y1="364.10" x2="800.8" y2="364.10" stroke="#231815" stroke-width="0.55" stroke-dasharray="13 2.2 2.2 2.2"/>
<line x1="766.20" y1="332.5" x2="766.20" y2="395.2" stroke="#231815" stroke-width="0.55" stroke-dasharray="12 2.2 2.2 2.2"/>
<circle cx="766.20" cy="364.10" r="22.9" fill="none" stroke="#231815" stroke-width="1.25"/>
<circle cx="766.20" cy="364.10" r="15.8" fill="none" stroke="#231815" stroke-width="1.25"/>
<circle cx="766.20" cy="364.10" r="10.0" fill="none" stroke="#231815" stroke-width="1.25"/>
<line x1="750.60" y1="315.60" x2="750.60" y2="353.50" stroke="#231815" stroke-width="0.55"/>
<line x1="782.00" y1="315.60" x2="782.00" y2="353.50" stroke="#231815" stroke-width="0.55"/>
<line x1="750.60" y1="320.00" x2="782.00" y2="320.00" stroke="#231815" stroke-width="0.55"/>
<path d="M750.60 320.00 L757.80 318.75 L757.80 321.25 Z" fill="#231815"/>
<path d="M782.00 320.00 L774.80 321.25 L774.80 318.75 Z" fill="#231815"/>
<path d="M750.6 314.8 V325.2 L745.6 320.0 Z" fill="#231815"/>
<line x1="735.60" y1="320.00" x2="746.00" y2="320.00" stroke="#231815" stroke-width="0.55"/>
<rect x="722.80" y="312.90" width="12.80" height="12.20" fill="#fff" stroke="#231815" stroke-width="0.7"/>
<text transform="translate(726.57 322.80) scale(0.9 1)" font-size="9.6" fill="#231815">A</text>
<text x="756.40" y="317.20" font-size="10.6" fill="#0a8de4" font-weight="700" stroke="#0a8de4" stroke-width="0.3">D</text>
<text transform="translate(764.40 317.20) scale(0.86 1)" font-size="8.6" fill="#231815">m5</text>
<line x1="773.40" y1="354.70" x2="820.00" y2="354.70" stroke="#231815" stroke-width="0.55"/>
<line x1="773.40" y1="373.90" x2="820.00" y2="373.90" stroke="#231815" stroke-width="0.55"/>
<path d="M815.8 309.2 V409.2 H803.0" fill="none" stroke="#231815" stroke-width="0.55"/>
<path d="M815.80 354.70 L814.55 347.50 L817.05 347.50 Z" fill="#231815"/>
<path d="M815.80 373.90 L817.05 381.10 L814.55 381.10 Z" fill="#231815"/>
<text transform="translate(812.40 343.60) rotate(-90)" font-size="10.6" fill="#0a8de4" font-weight="700" stroke="#0a8de4" stroke-width="0.3">P</text>
<text transform="translate(808.00 334.20) rotate(-90) scale(0.9 1)" font-size="8.3" fill="#231815">＋</text>
<text transform="translate(805.60 325.20) rotate(-90) scale(0.9 1)" font-size="8.3" fill="#231815">0.01</text>
<text transform="translate(812.80 325.40) rotate(-90) scale(0.9 1)" font-size="8.3" fill="#231815">0</text>
<rect x="747.50" y="403.10" width="55.50" height="11.60" fill="#fff" stroke="#231815" stroke-width="0.7"/>
<line x1="759.70" y1="403.10" x2="759.70" y2="414.70" stroke="#231815" stroke-width="0.7"/>
<line x1="790.00" y1="403.10" x2="790.00" y2="414.70" stroke="#231815" stroke-width="0.7"/>
<circle cx="753.6" cy="408.9" r="3.9" fill="none" stroke="#231815" stroke-width="0.6"/><circle cx="753.6" cy="408.9" r="2.1" fill="none" stroke="#231815" stroke-width="0.6"/>
<circle cx="764.6" cy="409.3" r="2.3" fill="none" stroke="#231815" stroke-width="0.7"/>
<line x1="763.20" y1="413.40" x2="766.20" y2="404.60" stroke="#231815" stroke-width="0.7"/>
<text transform="translate(769.60 412.80) scale(0.92 1)" font-size="10.4" fill="#231815">0.01</text>
<text transform="translate(793.87 412.60) scale(0.9 1)" font-size="9.6" fill="#231815">A</text>
<circle cx="474.30" cy="519.10" r="4.40" fill="#fff" stroke="#e4007f" stroke-width="0.95"/>
<path d="M471.75 517.69 C471.75 515.93 473.24 516.11 474.30 516.46 C475.36 516.11 476.85 515.93 476.85 517.69 L474.30 520.77 Z" fill="#e4007f"/>
<ellipse cx="474.30" cy="521.74" rx="1.32" ry="0.79" fill="#e4007f"/>
<text transform="translate(481.20 523.00) scale(0.9 1)" font-size="9.8" fill="#231815">(6)</text>
<text x="490.50" y="523.00" font-size="9.8" fill="#231815">・</text>
<text transform="translate(498.40 523.00) scale(0.9 1)" font-size="9.8" fill="#231815">(D)</text>
<text x="509.30" y="523.00" font-size="9.8" fill="#231815">・</text>
<text transform="translate(517.60 523.00) scale(0.9 1)" font-size="9.8" fill="#231815">(D＋3)</text>
<text x="546.20" y="523.00" font-size="9.6" fill="#231815" textLength="98.0" lengthAdjust="spacing">は参考値となります。</text>
<circle cx="474.30" cy="534.30" r="4.40" fill="#fff" stroke="#e4007f" stroke-width="0.95"/>
<path d="M471.75 532.89 C471.75 531.13 473.24 531.31 474.30 531.66 C475.36 531.31 476.85 531.13 476.85 532.89 L474.30 535.97 Z" fill="#e4007f"/>
<ellipse cx="474.30" cy="536.94" rx="1.32" ry="0.79" fill="#e4007f"/>
<text x="480.40" y="538.20" font-size="9.6" fill="#231815" textLength="110.7" lengthAdjust="spacing">刃先先端エッジ部に微小</text>
<text transform="translate(591.90 538.20) scale(0.8 1)" font-size="9.8" fill="#231815">R</text>
<text x="596.60" y="538.20" font-size="9.6" fill="#231815" textLength="61.3" lengthAdjust="spacing">がつきます。</text>
<text x="741.70" y="245.30" font-size="11.7" fill="#231815" font-weight="700" textLength="48.6" lengthAdjust="spacing">刃先形状</text>
<circle cx="767.80" cy="266.30" r="8.80" fill="#e0e8a4" stroke="#5d6852" stroke-width="1.2"/>
<text x="767.80" y="271.48" font-size="14.6" fill="#0a8de4" text-anchor="middle" font-weight="700" stroke="#0a8de4" stroke-width="0.3">A</text>
<rect x="367.80" y="367.00" width="37.10" height="14.90" fill="#00a73c"/>
<text transform="translate(370.20 379.30) scale(0.62 1)" font-size="11.6" fill="#fff" font-weight="700" stroke="#fff" stroke-width="0.3">RoHS</text>
<text transform="translate(392.60 380.20) scale(0.54 1)" font-size="15.4" fill="#fff" font-weight="700" stroke="#fff" stroke-width="0.3">10</text>
<defs>
<linearGradient id="mt" x1="0" y1="0" x2="0" y2="1">
<stop offset="0" stop-color="#606265"/><stop offset="0.06" stop-color="#8e9093"/><stop offset="0.22" stop-color="#a7a9ab"/><stop offset="0.40" stop-color="#cfd0d2"/>
<stop offset="0.55" stop-color="#aeb0b2"/><stop offset="0.78" stop-color="#94969a"/><stop offset="0.94" stop-color="#7a7c80"/><stop offset="1" stop-color="#56585b"/></linearGradient>
<linearGradient id="mtd" x1="0" y1="0" x2="0" y2="1">
<stop offset="0" stop-color="#4c4e51"/><stop offset="0.08" stop-color="#707275"/><stop offset="0.34" stop-color="#96989b"/>
<stop offset="0.58" stop-color="#7c7e81"/><stop offset="0.9" stop-color="#66686b"/><stop offset="1" stop-color="#48494c"/></linearGradient>
<linearGradient id="rg" x1="0" y1="0" x2="0" y2="1">
<stop offset="0" stop-color="#6b6d70"/><stop offset="0.05" stop-color="#b9babc"/><stop offset="0.16" stop-color="#c9cacc"/><stop offset="0.32" stop-color="#a9abad"/>
<stop offset="0.62" stop-color="#9a9c9f"/><stop offset="0.9" stop-color="#86888b"/><stop offset="0.97" stop-color="#b5b6b8"/><stop offset="1" stop-color="#77797c"/></linearGradient>
<linearGradient id="rim" x1="0" y1="0" x2="0" y2="1">
<stop offset="0" stop-color="#a9abad"/><stop offset="0.3" stop-color="#efefef"/><stop offset="0.7" stop-color="#d5d6d7"/><stop offset="1" stop-color="#9a9c9f"/></linearGradient>
<linearGradient id="hole" x1="0" y1="0" x2="1" y2="0">
<stop offset="0" stop-color="#7d7f82"/><stop offset="0.55" stop-color="#8f9194"/><stop offset="0.8" stop-color="#bfc0c2"/><stop offset="1" stop-color="#8a8c8f"/></linearGradient>
</defs>
<rect x="163.00" y="414.40" width="101.80" height="28.00" fill="url(#mt)"/>
<path d="M263.30 414.40 H286.70 C291.70 414.90 295.20 420.10 302.20 420.10 H341.40 V436.70 H302.20 C295.20 436.70 291.70 441.90 286.70 442.40 H263.30 Q261.70 428.40 263.30 414.40 Z" fill="url(#mtd)"/>
<rect x="299.20" y="421.30" width="42.20" height="7.47" fill="#b4b6b8" opacity="0.28"/>
<line x1="282.10" y1="415.60" x2="282.10" y2="441.20" stroke="#b9babc" stroke-width="0.8" opacity="0.8"/>
<ellipse cx="340.80" cy="428.40" rx="3.0" ry="8.00" fill="#c3c4c6" stroke="#e3e3e4" stroke-width="0.7"/>
<ellipse cx="341.00" cy="428.40" rx="1.7" ry="6.10" fill="#aeb0b2"/>
<line x1="197.10" y1="415.40" x2="197.10" y2="441.40" stroke="#d5d6d7" stroke-width="0.7" opacity="0.3"/>
<line x1="243.24" y1="415.40" x2="243.24" y2="441.40" stroke="#d5d6d7" stroke-width="0.7" opacity="0.45"/>
<path d="M149.2 407.8 A5.2 20.6 0 0 0 149.2 449.0 H169.0 V407.8 Z" fill="url(#rg)"/>
<ellipse cx="168.9" cy="428.4" rx="6.8" ry="20.6" fill="url(#rim)"/>
<ellipse cx="169.9" cy="428.4" rx="5.4" ry="17.0" fill="#77797c"/>
<ellipse cx="170.9" cy="428.4" rx="4.6" ry="14.6" fill="#a2a4a7"/>
<path d="M166.4 428.4 A4.6 14.0 0 0 1 171.0 414.4 H182 V442.4 H171.0 A4.6 14.0 0 0 1 166.4 428.4 Z" fill="url(#mt)"/>
<path d="M143.6 459.4 A5.0 18.7 0 0 0 143.6 496.8 H160.2 V459.4 Z" fill="url(#rg)"/>
<ellipse cx="160.2" cy="478.1" rx="7.8" ry="18.7" fill="url(#rim)"/>
<ellipse cx="160.8" cy="478.0" rx="5.6" ry="14.0" fill="url(#hole)"/>
<ellipse cx="159.6" cy="478.0" rx="3.6" ry="11.4" fill="#85878a" opacity="0.85"/>
<rect x="190.00" y="465.60" width="85.90" height="25.00" fill="url(#mt)"/>
<path d="M274.40 465.60 H295.00 C300.00 466.10 298.60 470.80 305.60 470.80 H342.60 V485.40 H305.60 C298.60 485.40 300.00 490.10 295.00 490.60 H274.40 Q272.80 478.10 274.40 465.60 Z" fill="url(#mtd)"/>
<rect x="302.60" y="472.00" width="40.00" height="6.57" fill="#b4b6b8" opacity="0.28"/>
<line x1="290.40" y1="466.80" x2="290.40" y2="489.40" stroke="#b9babc" stroke-width="0.8" opacity="0.8"/>
<ellipse cx="342.00" cy="478.10" rx="3.0" ry="7.00" fill="#c3c4c6" stroke="#e3e3e4" stroke-width="0.7"/>
<ellipse cx="342.20" cy="478.10" rx="1.7" ry="5.10" fill="#aeb0b2"/>
<line x1="218.70" y1="466.60" x2="218.70" y2="489.60" stroke="#d5d6d7" stroke-width="0.7" opacity="0.3"/>
<line x1="257.52" y1="466.60" x2="257.52" y2="489.60" stroke="#d5d6d7" stroke-width="0.7" opacity="0.45"/>
<path d="M174.6 462.3 H177.6 C183 462.6 186 465.6 191.0 465.6 V490.6 C186 490.6 183 493.6 177.6 493.9 H174.6 Z" fill="url(#mt)"/>
<ellipse cx="174.4" cy="478.1" rx="3.7" ry="15.9" fill="#515356"/>
<path d="M175.6 463.0 A3.4 15.2 0 0 0 175.6 493.2 A2.6 15.2 0 0 1 175.6 463.0 Z" fill="#9a9c9f"/>
<circle cx="81.60" cy="907.60" r="5.00" fill="#fff" stroke="#e4007f" stroke-width="0.95"/>
<path d="M78.70 906.00 C78.70 904.00 80.40 904.20 81.60 904.60 C82.80 904.20 84.50 904.00 84.50 906.00 L81.60 909.50 Z" fill="#e4007f"/>
<ellipse cx="81.60" cy="910.60" rx="1.5" ry="0.9" fill="#e4007f"/>
<text transform="translate(89.20 912.00) scale(0.93 1)" font-size="11.4" fill="#231815">P</text>
<text x="96.07" y="912.00" font-size="11.4" fill="#231815">＞</text>
<text transform="translate(107.47 912.00) scale(0.93 1)" font-size="11.4" fill="#231815">D</text>
<text x="114.88" y="912.00" font-size="11.4" fill="#231815">－</text>
<text transform="translate(126.28 912.00) scale(0.93 1)" font-size="11.4" fill="#231815">0.03</text>
<text x="147.57" y="912.00" font-size="11.4" fill="#231815">…</text>
<text x="163.00" y="912.00" font-size="11.8" fill="#231815">ℓ</text>
<text x="172.80" y="912.00" font-size="11.4" fill="#231815">＝</text>
<text transform="translate(184.70 912.00) scale(0.93 1)" font-size="11.4" fill="#231815">0</text>
<text transform="translate(203.00 912.00) scale(0.93 1)" font-size="11.4" fill="#231815">P</text>
<text x="209.87" y="912.00" font-size="11.4" fill="#231815">＞</text>
<text transform="translate(221.27 912.00) scale(0.93 1)" font-size="11.4" fill="#231815">D</text>
<text x="228.68" y="912.00" font-size="11.4" fill="#231815">－</text>
<text transform="translate(240.08 912.00) scale(0.93 1)" font-size="11.4" fill="#231815">0.03</text>
<text x="260.70" y="912.00" font-size="11.2" fill="#231815" textLength="43.4" lengthAdjust="spacingAndGlyphs">の場合、</text>
<text transform="translate(311.40 912.00) scale(0.93 1)" font-size="11.4" fill="#231815">D</text>
<text transform="translate(317.80 907.20) scale(0.98 1)" font-size="6.4" fill="#231815">－0.01</text>
<text transform="translate(317.80 913.50) scale(0.98 1)" font-size="6.4" fill="#231815">－0.03</text>
<text x="339.20" y="911.70" font-size="11.2" fill="#231815">(</text>
<text x="343.20" y="912.00" font-size="11.2" fill="#231815" textLength="34.3" lengthAdjust="spacing">導入部</text>
<text x="379.80" y="911.70" font-size="11.2" fill="#231815">)</text>
<text x="388.40" y="912.00" font-size="11.2" fill="#231815" textLength="83.8" lengthAdjust="spacing">はつきません。</text>
<rect x="76.05" y="928.65" width="41.10" height="39.70" rx="6.0" fill="#6a7880" stroke="#1f2427" stroke-width="0.9"/>
<rect x="79.20" y="931.70" width="34.80" height="33.60" rx="2.8" fill="#fff" stroke="#1f2427" stroke-width="0.8"/>
<path d="M82.8 964.0 L83.8 959.0 C85.6 954.0 89.6 950.4 93.2 949.0 H100.4 C104.0 950.4 107.8 954.0 109.4 959.0 L110.4 964.0 Z" fill="#6a7880" stroke="#1f2427" stroke-width="0.6"/>
<rect x="92.30" y="952.00" width="1.9" height="1.9" fill="#1f2427"/>
<rect x="92.30" y="955.00" width="1.9" height="1.9" fill="#1f2427"/>
<rect x="92.30" y="958.00" width="1.9" height="1.9" fill="#1f2427"/>
<rect x="95.10" y="952.00" width="1.9" height="1.9" fill="#1f2427"/>
<rect x="95.10" y="955.00" width="1.9" height="1.9" fill="#1f2427"/>
<rect x="95.10" y="958.00" width="1.9" height="1.9" fill="#1f2427"/>
<rect x="97.90" y="952.00" width="1.9" height="1.9" fill="#1f2427"/>
<rect x="97.90" y="955.00" width="1.9" height="1.9" fill="#1f2427"/>
<rect x="97.90" y="958.00" width="1.9" height="1.9" fill="#1f2427"/>
<path d="M81.2 947.4 C82.6 941.6 91.0 935.8 98.6 934.6 C101.8 934.2 104.6 935.6 105.4 937.8" fill="none" stroke="#1f2427" stroke-width="3.9" stroke-linecap="round"/>
<path d="M81.2 947.4 C82.6 941.6 91.0 935.8 98.6 934.6 C101.8 934.2 104.6 935.6 105.4 937.8" fill="none" stroke="#6a7880" stroke-width="2.6" stroke-linecap="round"/>
<path d="M80.2 946.2 L86.6 943.8 L88.0 946.2 L82.2 950.0 Z" fill="#6a7880" stroke="#1f2427" stroke-width="0.6"/>
<path d="M99.6 938.6 L104.6 936.0 L106.2 938.4 L101.2 941.4 Z" fill="#6a7880" stroke="#1f2427" stroke-width="0.6"/>
<path d="M112.6 930.0 L119.6 933.2 L116.0 938.2 Z" fill="#fff"/>
<path d="M97.8 945.6 L108.4 939.4 L107.6 941.4 L119.4 934.2 L112.6 941.4 L113.6 939.8 L99.4 947.4 Z" fill="#6a7880" stroke="#1f2427" stroke-width="0.5"/>
<path d="M103.6 947.6 L116.6 939.6 L104.6 949.4 Z" fill="#6a7880" stroke="#1f2427" stroke-width="0.5"/>
<text x="122.00" y="946.40" font-size="11.4" fill="#231815" font-weight="700" stroke="#231815" stroke-width="0.3">Order</text>
<text x="122.00" y="960.40" font-size="10.4" fill="#231815" font-weight="700" textLength="32.2" lengthAdjust="spacing">注文例</text>
<rect x="173.80" y="927.60" width="73.80" height="19.20" fill="#fff" stroke="#3e3a39" stroke-width="0.9"/>
<text x="198.80" y="941.60" font-size="11.4" fill="#231815" font-weight="700" textLength="23.8" lengthAdjust="spacing">型式</text>
<rect x="267.60" y="927.60" width="37.40" height="19.20" fill="#fff" stroke="#3e3a39" stroke-width="0.9"/>
<text x="286.30" y="941.60" font-size="11.6" fill="#231815" text-anchor="middle" font-weight="700" stroke="#231815" stroke-width="0.3">L</text>
<rect x="323.80" y="927.60" width="37.40" height="19.20" fill="#fff" stroke="#3e3a39" stroke-width="0.9"/>
<text x="342.50" y="941.60" font-size="11.6" fill="#231815" text-anchor="middle" font-weight="700" stroke="#231815" stroke-width="0.3">P</text>
<rect x="252.60" y="936.80" width="10.00" height="1.50" fill="#231815"/>
<rect x="309.40" y="936.80" width="10.00" height="1.50" fill="#231815"/>
<text x="174.40" y="962.70" font-size="12.2" fill="#0a8de4" font-weight="700" stroke="#0a8de4" stroke-width="0.15" textLength="73.5" lengthAdjust="spacingAndGlyphs">HW－TSPHAL 20</text>
<rect x="254.00" y="958.00" width="8.40" height="1.30" fill="#0a8de4"/>
<text x="286.60" y="962.70" font-size="11.8" fill="#0a8de4" text-anchor="middle" font-weight="700" stroke="#0a8de4" stroke-width="0.3">100</text>
<rect x="313.80" y="958.00" width="8.40" height="1.30" fill="#0a8de4"/>
<text transform="translate(343.20 962.70) scale(0.92 1)" font-size="11.8" fill="#0a8de4" text-anchor="middle" font-weight="700" stroke="#0a8de4" stroke-width="0.3">P13.4</text>
<rect x="76.05" y="988.45" width="41.10" height="39.90" rx="6.0" fill="#6a7880" stroke="#1f2427" stroke-width="0.9"/>
<rect x="79.20" y="991.50" width="34.80" height="33.80" rx="2.8" fill="#fff" stroke="#1f2427" stroke-width="0.8"/>
<rect x="82.0" y="996.6" width="18.8" height="19.4" fill="#5f6d75" stroke="#1f2427" stroke-width="0.5"/>
<rect x="99.6" y="996.6" width="1.4" height="19.4" fill="#1f2427"/>
<path d="M102.2 1001.8 H108.6 L112.6 1008.4 V1016.8 H102.2 Z" fill="#5f6d75" stroke="#1f2427" stroke-width="0.5"/>
<path d="M104.6 1003.8 H107.6 L109.0 1006.8 H104.6 Z" fill="#fff"/>
<rect x="84.6" y="1016.0" width="28.0" height="1.3" fill="#1f2427"/>
<circle cx="91.70" cy="1018.8" r="2.9" fill="#8d989e" stroke="#1f2427" stroke-width="0.7"/>
<path d="M91.70 1016.6 V1021.0 M89.50 1018.8 H93.90" stroke="#1f2427" stroke-width="0.8"/>
<circle cx="106.20" cy="1018.8" r="2.9" fill="#8d989e" stroke="#1f2427" stroke-width="0.7"/>
<path d="M106.20 1016.6 V1021.0 M104.00 1018.8 H108.40" stroke="#1f2427" stroke-width="0.8"/>
<text x="122.60" y="1006.40" font-size="11.4" fill="#231815" font-weight="700" stroke="#231815" stroke-width="0.3">Delivery</text>
<text x="122.60" y="1020.40" font-size="10.4" fill="#231815" font-weight="700" textLength="32.2" lengthAdjust="spacing">出荷日</text>
<rect x="173.8" y="993.2" width="88.2" height="25.6" rx="3" fill="#fff" stroke="#8b8b8b" stroke-width="0.9"/>
<path d="M176.8 993.2 H202.0 V1018.8 H176.8 A3 3 0 0 1 173.8 1015.8 V996.2 A3 3 0 0 1 176.8 993.2 Z" fill="#f7c9c0" stroke="#8b8b8b" stroke-width="0.9"/>
<text x="188.00" y="1013.60" font-size="21.0" fill="#1a1a1a" text-anchor="middle" font-weight="700" stroke="#1a1a1a" stroke-width="0.3">2</text>
<text x="209.60" y="1010.40" font-size="11.3" fill="#2e2a29" textLength="45.2" lengthAdjust="spacingAndGlyphs">日目出荷</text>
<defs><linearGradient id="stk" x1="0" y1="0" x2="0.3" y2="1"><stop offset="0" stop-color="#4f8fd8"/><stop offset="1" stop-color="#7db2e8"/></linearGradient></defs>
<rect x="272.2" y="993.2" width="89.0" height="25.6" rx="3" fill="#fff" stroke="#6d6d6d" stroke-width="0.9"/>
<path d="M275.2 992.9 H301.8 V1019.1 H275.2 A3 3 0 0 1 272.2 1016.1 V995.9 A3 3 0 0 1 275.2 992.9 Z" fill="url(#stk)" stroke="#27479f" stroke-width="0.7"/>
<text x="272.30" y="1008.60" font-size="17.6" fill="#fff" font-weight="700" stroke="#1f2f9c" stroke-width="1.2" paint-order="stroke" stroke-linejoin="round">急</text>
<path d="M281.2 1012.6 L286.8 1013.0 L289.6 1010.6 C290.4 1006.2 292.4 1003.9 294.6 1003.4 L294.0 1004.9 L296.7 1003.6 L296.2 1005.1 L299.6 1004.2 C297.2 1006.6 295.9 1010.0 296.5 1013.8 L299.2 1017.4 L293.8 1016.2 L287.2 1014.8 Z" fill="#231512"/>
<text x="305.60" y="1010.40" font-size="11" fill="#231815" textLength="38.3" lengthAdjust="spacingAndGlyphs">ストーク</text>
<text x="347.00" y="1010.60" font-size="12.2" fill="#231815" font-weight="700" stroke="#231815" stroke-width="0.3">A</text>
<circle cx="278.00" cy="1028.20" r="4.90" fill="#fff" stroke="#e4007f" stroke-width="0.95"/>
<path d="M275.10 1026.60 C275.10 1024.60 276.80 1024.80 278.00 1025.20 C279.20 1024.80 280.90 1024.60 280.90 1026.60 L278.00 1030.10 Z" fill="#e4007f"/>
<ellipse cx="278.00" cy="1031.20" rx="1.5" ry="0.9" fill="#e4007f"/>
<text x="284.30" y="1032.30" font-size="11.4" fill="#e4007f" textLength="214.9" lengthAdjust="spacingAndGlyphs">18:00以降のご注文は3日目出荷となります。</text>
<circle cx="278.00" cy="1041.40" r="4.90" fill="#fff" stroke="#e4007f" stroke-width="0.95"/>
<path d="M275.10 1039.80 C275.10 1037.80 276.80 1038.00 278.00 1038.40 C279.20 1038.00 280.90 1037.80 280.90 1039.80 L278.00 1043.30 Z" fill="#e4007f"/>
<ellipse cx="278.00" cy="1044.40" rx="1.5" ry="0.9" fill="#e4007f"/>
<text x="284.30" y="1045.50" font-size="11.4" fill="#e4007f" textLength="309.1" lengthAdjust="spacing">1回のご注文における同一型式でのご注文本数は9本まで</text>
<circle cx="278.00" cy="1054.60" r="4.90" fill="#fff" stroke="#e4007f" stroke-width="0.95"/>
<path d="M275.10 1053.00 C275.10 1051.00 276.80 1051.20 278.00 1051.60 C279.20 1051.20 280.90 1051.00 280.90 1053.00 L278.00 1056.50 Z" fill="#e4007f"/>
<ellipse cx="278.00" cy="1057.60" rx="1.5" ry="0.9" fill="#e4007f"/>
<text x="284.30" y="1058.70" font-size="11.4" fill="#e4007f" textLength="344.1" lengthAdjust="spacing">追加工1F～7Fをご指定の場合は3日目出荷（ストーク適用不可）</text>
<text x="35.80" y="1239.60" font-size="16.6" fill="#1a1a1a" font-weight="700" stroke="#1a1a1a" stroke-width="0.3">245</text>
</svg>
</body></html>
